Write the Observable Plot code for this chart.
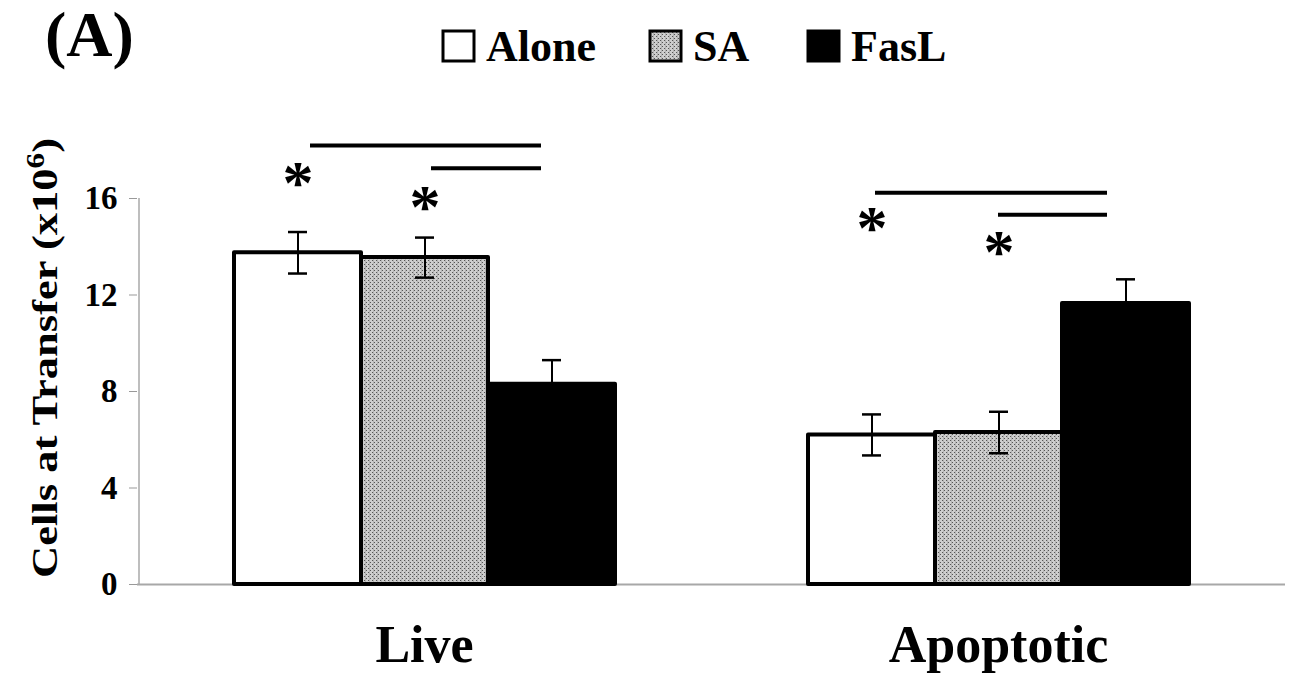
<!DOCTYPE html>
<html><head><meta charset="utf-8">
<script src="https://cdn.jsdelivr.net/npm/d3@7"></script>
<script src="https://cdn.jsdelivr.net/npm/@observablehq/plot@0.6"></script>
<style>
body{margin:0;background:#fff;font-family:"Liberation Serif","Times New Roman",serif;}
svg{display:block}
</style></head><body>
<div id="chart"></div>
<script>
// ---- data ----
const groups = ["Live", "Apoptotic"];
const series = ["Alone", "SA", "FasL"];
const liveMeans = [13.75, 13.55, 8.3];
const liveErrors = [0.86, 0.83, 1.0];
const apoptoticMeans = [6.2, 6.3, 11.65];
const apoptoticErrors = [0.85, 0.86, 1.0];
const yTicks = [0, 4, 8, 12, 16];
const yLabel = "Cells at Transfer (x10";
const yLabelSup = "6";
const panelLabel = "(A)";
// significance brackets: group, from-series, to-series, level
const sigLineGroup = ["Live", "Live", "Apoptotic", "Apoptotic"];
const sigLineFrom = ["Alone", "SA", "Alone", "SA"];
const sigLineTo = ["FasL", "FasL", "FasL", "FasL"];
const sigLineLevel = [18.2, 17.25, 16.24, 15.33];
// asterisks: group, series, level
const starGroup = ["Live", "Live", "Apoptotic", "Apoptotic"];
const starSeries = ["Alone", "SA", "Alone", "SA"];
const starLevel = [17.05, 16.06, 15.17, 14.19];

const rows = [];
series.forEach((s, i) => {
  rows.push({group: "Live", series: s, value: liveMeans[i], err: liveErrors[i]});
  rows.push({group: "Apoptotic", series: s, value: apoptoticMeans[i], err: apoptoticErrors[i]});
});
const sigLines = sigLineGroup.map((g, i) => ({group: g, from: sigLineFrom[i], to: sigLineTo[i], level: sigLineLevel[i]}));
const stars = starGroup.map((g, i) => ({group: g, series: starSeries[i], level: starLevel[i]}));

// ---- styles ----
const FONT = "Liberation Serif";
const fills = ["white", "url(#sa-stipple)", "black"];
const sigInsetL = [76, 70, 67, 63];
const sigInsetR = [74, 74, 82, 82];

// ---- header (panel label + legend) ----
const header = d3.select("#chart").append("svg")
  .attr("width", 1297).attr("height", 100)
  .style("font-family", FONT).style("font-weight", "bold");
const defs = header.append("defs");
const pat = defs.append("pattern").attr("id", "sa-stipple")
  .attr("patternUnits", "userSpaceOnUse").attr("width", 4).attr("height", 4);
pat.append("rect").attr("width", 4).attr("height", 4).attr("fill", "#cdcdcd");
pat.append("rect").attr("x", 0).attr("y", 0).attr("width", 1).attr("height", 1).attr("fill", "#555");
pat.append("rect").attr("x", 2).attr("y", 2).attr("width", 1).attr("height", 1).attr("fill", "#555");
pat.append("rect").attr("x", 1).attr("y", 0).attr("width", 1).attr("height", 4).attr("fill", "#9a9a9a").attr("opacity", 0.5);

header.append("text").attr("x", 45).attr("y", 56).attr("font-size", 64).text(panelLabel);
const legendBoxX = [443, 650, 808];
const legendTextX = [486, 693, 851];
series.forEach((s, i) => {
  header.append("rect").attr("x", legendBoxX[i]).attr("y", 31).attr("width", 31).attr("height", 30)
    .attr("fill", fills[i]).attr("stroke", "black").attr("stroke-width", 3);
  header.append("text").attr("x", legendTextX[i]).attr("y", 61).attr("font-size", 44).text(s);
});

// ---- plot ----
const lo = d => d.value - d.err;
const hi = d => d.value + d.err;
const plot = Plot.plot({
  width: 1297,
  height: 578,
  marginTop: 98,
  marginBottom: 94,
  marginLeft: 137,
  marginRight: 12,
  style: {fontFamily: FONT, fontWeight: "bold", color: "black", background: "white", overflow: "visible"},
  fx: {domain: groups, padding: 0, label: null},
  x: {domain: series, paddingInner: 0, paddingOuter: 0.744, axis: null},
  y: {domain: [0, 16], axis: null},
  color: {type: "ordinal", domain: series, range: fills},
  marks: [
    Plot.ruleY([0], {stroke: "#a8a8a8", strokeWidth: 2}),
    Plot.ruleX([{group: "Live"}], {fx: "group", x: () => "Alone", y1: () => 0, y2: () => 16, dx: -159, stroke: "#a8a8a8", strokeWidth: 1.5}),
    Plot.barY(rows, {fx: "group", x: "series", y: "value", fill: "series", stroke: "black", strokeWidth: 4, strokeLinejoin: "round"}),
    Plot.ruleX(rows, {fx: "group", x: "series", y1: lo, y2: hi, stroke: "black", strokeWidth: 2}),
    Plot.tickY(rows, {fx: "group", x: "series", y: lo, insetLeft: 54, insetRight: 54, stroke: "black", strokeWidth: 2.5}),
    Plot.tickY(rows, {fx: "group", x: "series", y: hi, insetLeft: 54, insetRight: 54, stroke: "black", strokeWidth: 2.5}),
    ...sigLines.map((d, i) => Plot.ruleY([d], {fx: "group", x1: "from", x2: "to", y: "level",
      insetLeft: sigInsetL[i], insetRight: sigInsetR[i], stroke: "black", strokeWidth: 4})),
    Plot.text(stars, {fx: "group", x: "series", y: "level", text: () => "*", fontSize: 62, fontWeight: "bold", dy: 10}),
    Plot.axisY({ticks: yTicks, tickSize: 8, tickPadding: 12, fontSize: 33, stroke: "#999", fill: "black",
      label: yLabel, labelAnchor: "center", labelArrow: false}),
    Plot.axisFx({anchor: "bottom", tickSize: 0, tickPadding: 41, fontSize: 52, label: null})
  ]
});
document.getElementById("chart").appendChild(plot);

// y-axis label: superscript and placement
const labG = plot.querySelector('[aria-label="y-axis label"]');
const lab = labG && labG.querySelector("text");
if (lab) {
  labG.removeAttribute("transform");
  lab.textContent = "";
  lab.removeAttribute("dy");
  lab.removeAttribute("x");
  lab.removeAttribute("y");
  lab.setAttribute("transform", "translate(57,258) rotate(-90)");
  lab.setAttribute("text-anchor", "middle");
  lab.setAttribute("font-size", 36);
  lab.setAttribute("textLength", 440);
  lab.setAttribute("lengthAdjust", "spacingAndGlyphs");
  const t1 = document.createElementNS("http://www.w3.org/2000/svg", "tspan");
  t1.textContent = yLabel;
  const t2 = document.createElementNS("http://www.w3.org/2000/svg", "tspan");
  t2.textContent = yLabelSup;
  t2.setAttribute("baseline-shift", "super");
  t2.setAttribute("font-size", "70%");
  const t3 = document.createElementNS("http://www.w3.org/2000/svg", "tspan");
  t3.textContent = ")";
  lab.append(t1, t2, t3);
}
</script>
</body></html>
